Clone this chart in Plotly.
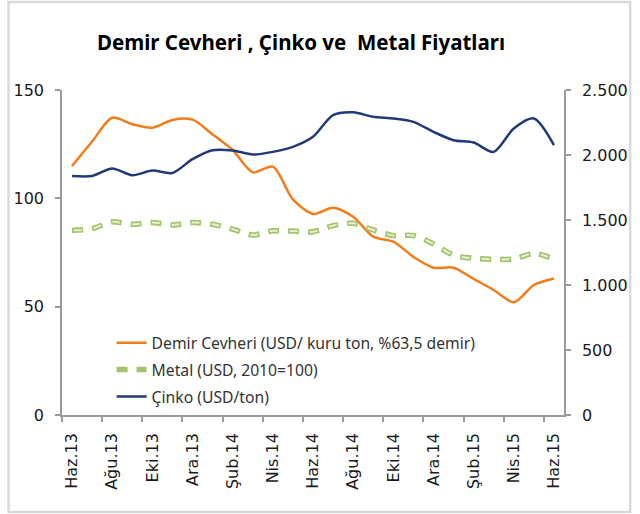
import plotly.graph_objects as go

months = ["Haz.13", "Tem.13", "Ağu.13", "Eyl.13", "Eki.13", "Kas.13", "Ara.13",
          "Oca.14", "Şub.14", "Mar.14", "Nis.14", "May.14", "Haz.14", "Tem.14",
          "Ağu.14", "Eyl.14", "Eki.14", "Kas.14", "Ara.14", "Oca.15", "Şub.15",
          "Mar.15", "Nis.15", "May.15", "Haz.15"]
demir = [114.9, 126.2, 137.2, 134.2, 132.6, 136.2, 136.3, 129.5, 122.3, 112.0,
         114.6, 99.5, 92.8, 95.7, 91.5, 82.3, 80.0, 73.0, 68.0, 68.0,
         62.8, 57.7, 52.0, 60.0, 63.0]
metal = [85.2, 86.0, 89.2, 88.0, 88.9, 87.7, 88.8, 88.0, 85.8, 83.1,
         85.0, 84.9, 84.6, 87.4, 88.5, 85.4, 82.8, 82.8, 79.0, 73.8,
         72.3, 71.9, 72.0, 74.6, 72.0]
cinko = [1839, 1839, 1896, 1844, 1880, 1862, 1968, 2037, 2035, 2004,
         2024, 2063, 2140, 2307, 2328, 2294, 2281, 2255, 2178, 2114,
         2096, 2024, 2204, 2281, 2076]

left_ticks = [0, 50, 100, 150]
right_ticks = [0, 500, 1000, 1500, 2000, 2500]
right_ticktext = ["0", "500", "1.000", "1.500", "2.000", "2.500"]

names = ["Demir Cevheri (USD/ kuru ton, %63,5 demir)", "Metal (USD, 2010=100)", "Çinko (USD/ton)"]
title = "Demir Cevheri , Çinko ve  Metal Fiyatları"

x = list(range(len(months)))
label_idx = x[::2]
boundaries = [i - 0.5 for i in label_idx]

fig = go.Figure()
fig.add_trace(go.Scatter(x=x, y=demir, name=names[0], mode="lines", legendgroup="a",
                         line=dict(color="#F07D1A", width=2.5, shape="spline", smoothing=0.8)))
fig.add_trace(go.Scatter(x=x, y=metal, name=names[1], mode="lines", legendgroup="b",
                         line=dict(color="#A4C36A", width=5.5, shape="spline", smoothing=0.8,
                                   dash="11px,9px")))
fig.add_trace(go.Scatter(x=x, y=metal, name=names[1], mode="lines", legendgroup="b",
                         showlegend=False,
                         line=dict(color="#E6EFD6", width=2, shape="spline", smoothing=0.8,
                                   dash="0px,1.5px,8px,10.5px")))
fig.add_trace(go.Scatter(x=x, y=cinko, name=names[2], mode="lines", legendgroup="c", yaxis="y2",
                         line=dict(color="#1F3A78", width=2.5, shape="spline", smoothing=0.8)))

axis_font = dict(family="DejaVu Sans", size=16, color="#1a1a1a")
axcol = "#9a9a9a"

fig.update_layout(
    width=640, height=514,
    margin=dict(l=62, r=62, t=90, b=99),
    paper_bgcolor="white", plot_bgcolor="white",
    showlegend=True,
    title=dict(text=title, x=301 / 640, xref="container", xanchor="center",
               y=1 - 43 / 514, yref="container", yanchor="middle",
               font=dict(family="Noto Sans", size=20.5, color="#000000", weight="bold")),
    legend=dict(x=(113 - 62) / 516, y=(415 - 326) / 325, xanchor="left", yanchor="top",
                bgcolor="rgba(0,0,0,0)", traceorder="grouped", tracegroupgap=3.5,
                itemwidth=30,
                font=dict(family="Noto Sans", size=15.7, color="#333333")),
    xaxis=dict(range=[-0.5, len(months) - 0.5], showline=True, linecolor=axcol, linewidth=1.5,
               showgrid=False, zeroline=False,
               tickmode="array", tickvals=label_idx, ticktext=[months[i] for i in label_idx],
               ticks="", tickangle=-90, tickfont=axis_font, ticklabelstandoff=10,
               minor=dict(tickmode="array", tickvals=boundaries, ticks="outside",
                          ticklen=5, tickcolor=axcol, tickwidth=1.5)),
    yaxis=dict(range=[0, 150], tickmode="array", tickvals=left_ticks,
               showline=True, linecolor=axcol, linewidth=1.5, showgrid=False, zeroline=False,
               ticks="outside", ticklen=5, tickcolor=axcol, tickwidth=1.5,
               tickfont=axis_font, ticklabelstandoff=8),
    yaxis2=dict(range=[0, 2500], overlaying="y", side="right", tickmode="array",
                tickvals=right_ticks, ticktext=right_ticktext,
                showline=True, linecolor=axcol, linewidth=1.5, showgrid=False, zeroline=False,
                ticks="outside", ticklen=5, tickcolor=axcol, tickwidth=1.5,
                tickfont=axis_font, ticklabelstandoff=8),
    shapes=[dict(type="rect", xref="paper", yref="paper",
                 x0=(7 - 62) / 516, x1=(646 - 62) / 516,
                 y0=(415 - 512) / 325, y1=(415 - 2) / 325,
                 line=dict(color="#d9d9d9", width=2.5), fillcolor="rgba(0,0,0,0)", layer="below")],
)

fig.write_html("out.html", config={"displayModeBar": False},
               post_script="document.body.style.margin='0';")
